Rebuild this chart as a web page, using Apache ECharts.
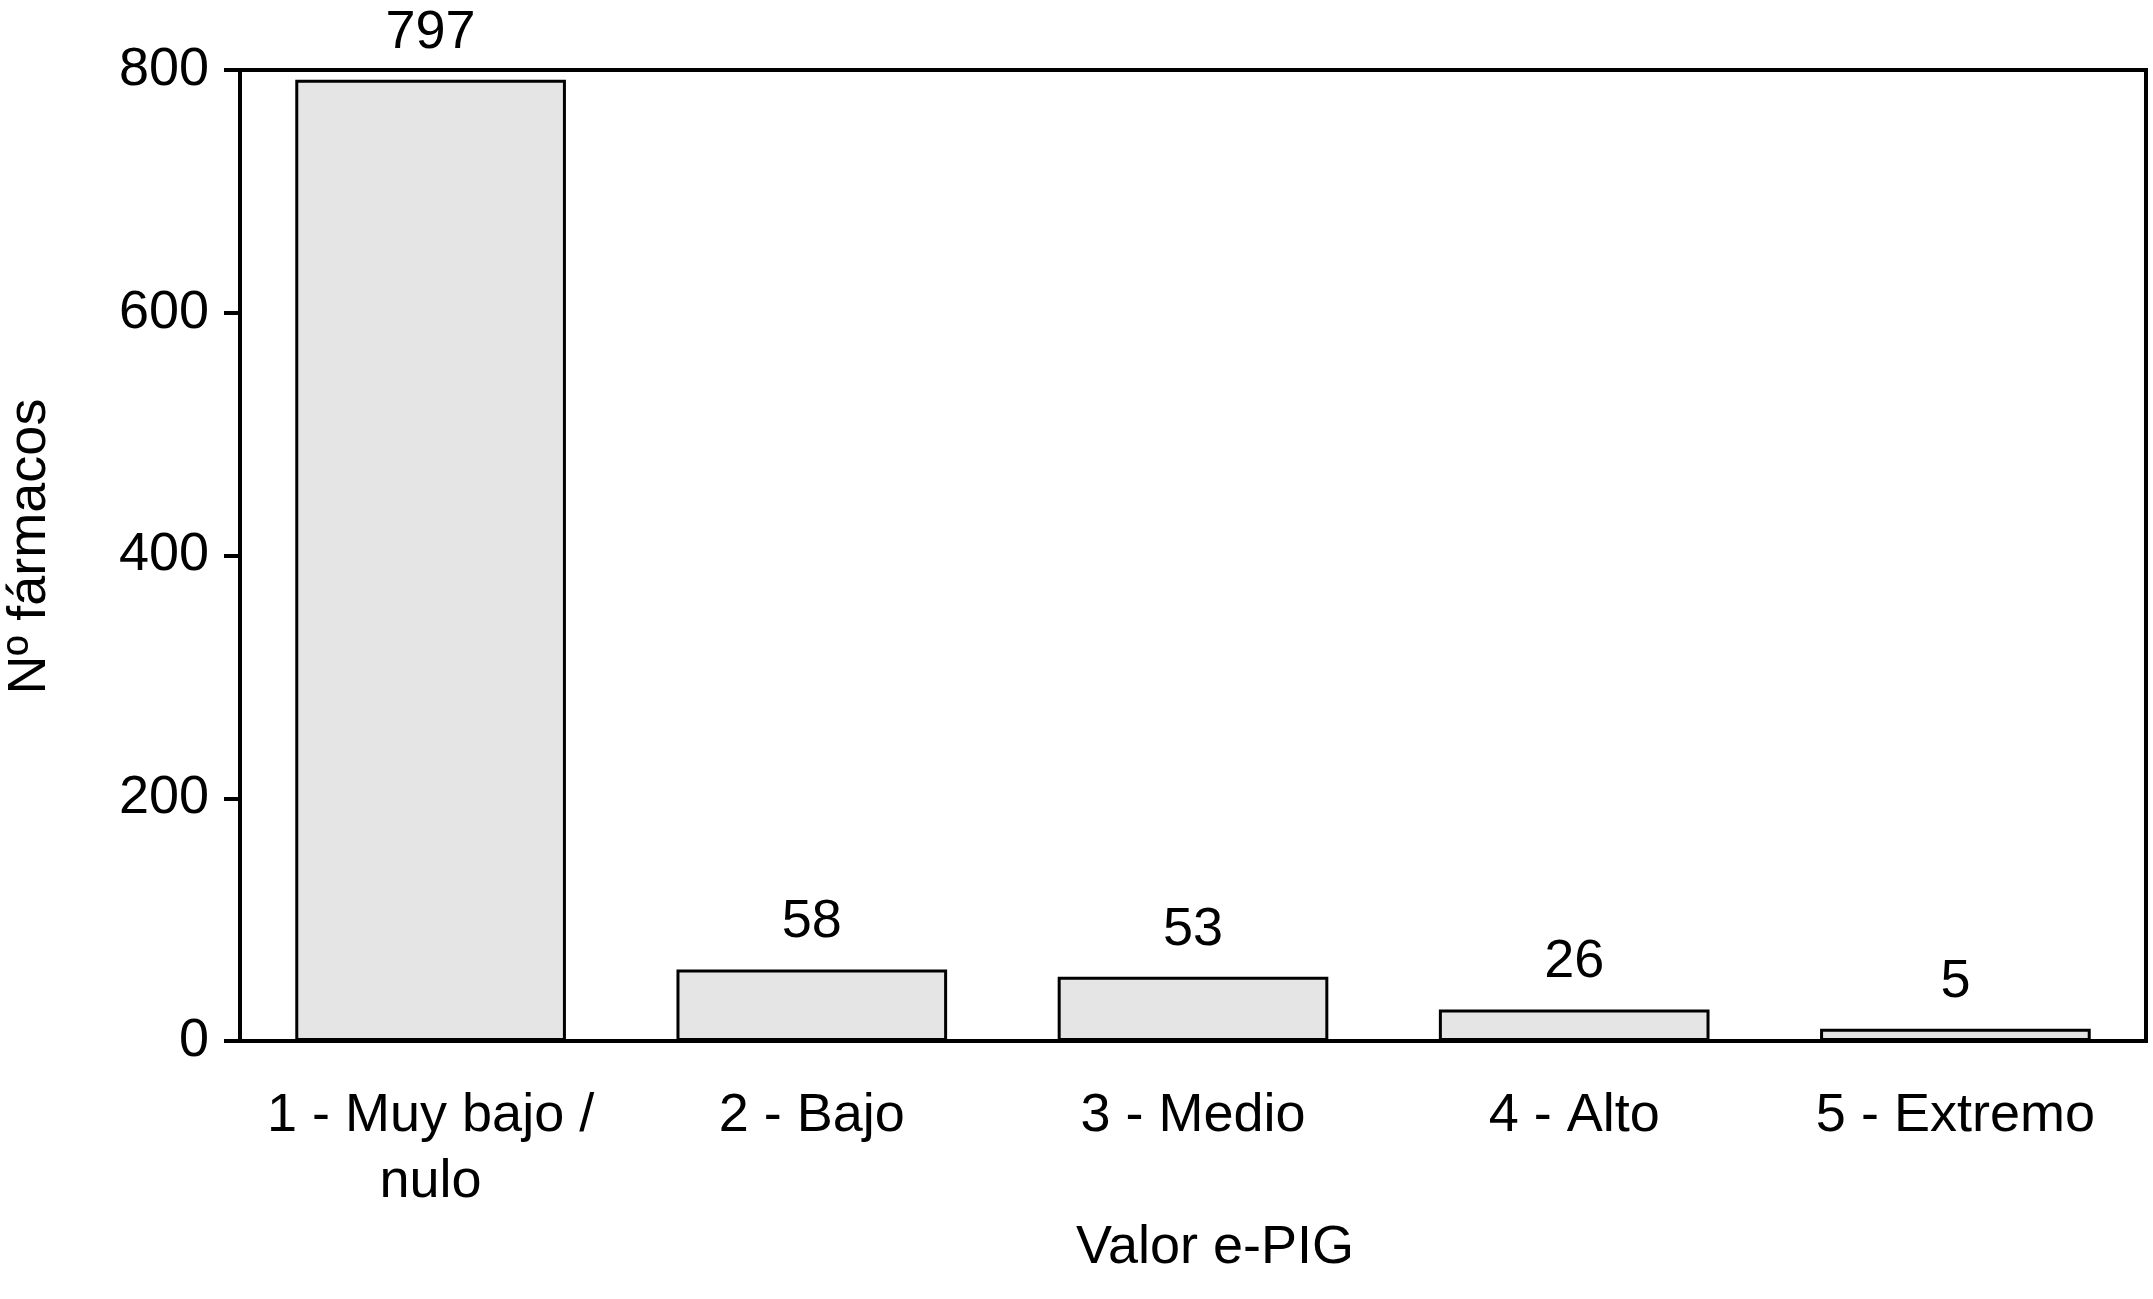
<!DOCTYPE html>
<html>
<head>
<meta charset="utf-8">
<script src="https://cdn.jsdelivr.net/npm/echarts@6/dist/echarts.min.js"></script>
<style>html,body{margin:0;padding:0;background:#fff}#c{width:2153px;height:1299px}</style>
</head>
<body>
<div id="c"></div>
<script>
const categories = ['1 - Muy bajo /\nnulo', '2 - Bajo', '3 - Medio', '4 - Alto', '5 - Extremo'];
const barHeights = [792, 59, 53, 26, 10];
const printedValues = [797, 58, 53, 26, 5];
const yTicks = [0, 200, 400, 600, 800];
const xTitle = 'Valor e-PIG';
const yTitle = 'Nº fármacos';

const FONT = '"Liberation Sans", Arial, sans-serif';
const chart = echarts.init(document.getElementById('c'), null, {renderer: 'canvas'});
chart.setOption({
  animation: false,
  backgroundColor: '#fff',
  grid: {left: 240, right: 7, top: 70, bottom: 258, show: true, borderColor: '#000', borderWidth: 4, outerBoundsMode: 'none'},
  xAxis: {
    type: 'category',
    data: categories,
    name: xTitle,
    nameLocation: 'middle',
    nameGap: 180,
    nameTextStyle: {fontFamily: FONT, fontSize: 54, color: '#000', padding: [0, 0, 0, 44]},
    axisLine: {lineStyle: {color: '#000', width: 4}},
    axisTick: {show: false},
    axisLabel: {fontFamily: FONT, fontSize: 54, color: '#000', margin: 42, lineHeight: 66, interval: 0}
  },
  yAxis: {
    type: 'value',
    min: yTicks[0],
    max: yTicks[yTicks.length - 1],
    interval: 200,
    name: yTitle,
    nameLocation: 'middle',
    nameGap: 183,
    nameTextStyle: {fontFamily: FONT, fontSize: 54, color: '#000', padding: [0, 0, 0, 18]},
    axisLine: {show: true, lineStyle: {color: '#000', width: 4}},
    axisTick: {show: true, length: 16, lineStyle: {color: '#000', width: 4}},
    axisLabel: {fontFamily: FONT, fontSize: 54, color: '#000', margin: 31},
    splitLine: {show: false}
  },
  series: [{
    type: 'bar',
    data: barHeights,
    barCategoryGap: '29%',
    itemStyle: {color: '#e5e5e5', borderColor: '#000', borderWidth: 3},
    label: {
      show: true,
      position: 'top',
      distance: 20,
      fontFamily: FONT,
      fontSize: 54,
      color: '#000',
      formatter: p => String(printedValues[p.dataIndex])
    }
  }]
});
</script>
</body>
</html>
